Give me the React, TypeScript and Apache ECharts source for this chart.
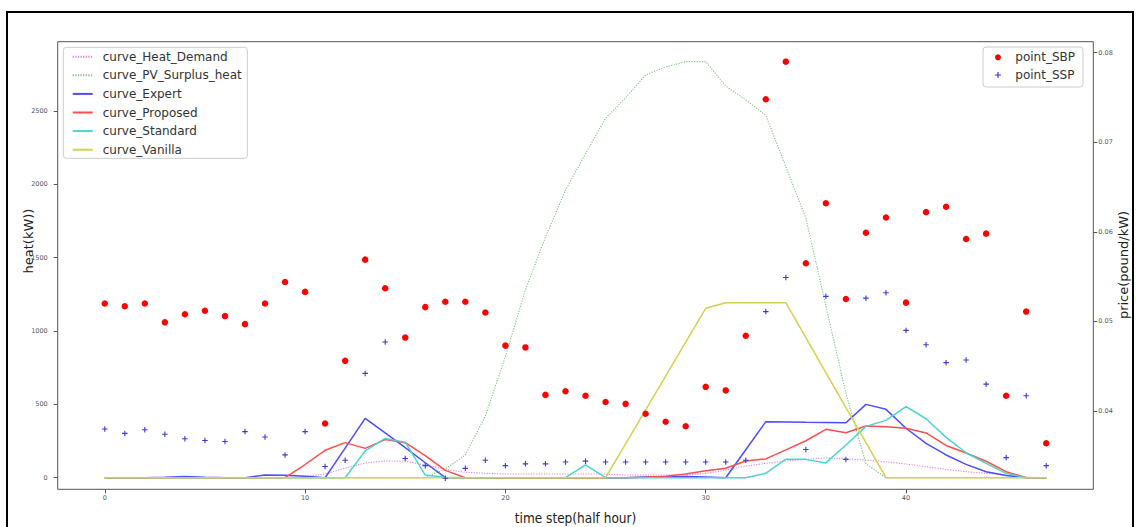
import React, { useEffect, useRef } from "react";
import * as echarts from "echarts";

// Half-hour time steps of the day
const timeSteps = [
  0, 1, 2, 3, 4, 5, 6, 7, 8, 9, 10, 11, 12, 13, 14, 15, 16, 17, 18, 19, 20, 21, 22, 23,
  24, 25, 26, 27, 28, 29, 30, 31, 32, 33, 34, 35, 36, 37, 38, 39, 40, 41, 42, 43, 44, 45, 46, 47,
];

// Heat curves (kW)
const heatDemand = [
  0, 0, 0, 0, 0, 0, 0, 0, 0, 0, 8, 25, 66, 100, 115, 112, 87, 57, 37, 30, 25, 25, 25, 25,
  25, 25, 18, 18, 18, 18, 28, 52, 80, 98, 114, 125, 135, 128, 120, 109, 93, 75, 57, 41, 30, 18, 5, 0,
];
const pvSurplusHeat = [
  0, 0, 0, 0, 0, 0, 0, 0, 0, 0, 0, 0, 0, 0, 0, 0, 0, 60, 155, 420, 825, 1280, 1640, 1960,
  2210, 2450, 2590, 2745, 2800, 2836, 2836, 2670, 2575, 2470, 2120, 1770, 1170, 575, 95, 0, 0, 0, 0, 0, 0, 0, 0, 0,
];
const expert = [
  0, 0, 0, 3, 8, 3, 0, 0, 18, 16, 10, 0, 202, 405, 305, 205, 102, 0, 0, 0, 0, 0, 0, 0,
  0, 0, 0, 5, 5, 8, 5, 0, 191, 382, 380, 378, 377, 375, 500, 466, 337, 234, 155, 91, 41, 15, 0, 0,
];
const proposed = [
  0, 0, 0, 0, 0, 0, 0, 0, 0, 0, 90, 187, 239, 200, 260, 239, 150, 50, 0, 0, 0, 0, 0, 0,
  0, 0, 0, 3, 10, 25, 48, 64, 114, 128, 190, 252, 330, 307, 353, 348, 337, 305, 220, 168, 112, 41, 0, 0,
];
const standard = [
  0, 0, 0, 0, 0, 0, 0, 0, 0, 0, 0, 0, 0, 183, 268, 242, 18, 3, 0, 0, 0, 0, 0, 0,
  87, 0, 0, 0, 0, 0, 0, 0, 0, 30, 126, 125, 101, 223, 350, 391, 484, 402, 275, 170, 98, 30, 0, 0,
];
const vanilla = [
  0, 0, 0, 0, 0, 0, 0, 0, 0, 0, 0, 0, 0, 0, 0, 0, 0, 0, 0, 0, 0, 0, 0, 0,
  0, 0, 231, 462, 693, 924, 1155, 1193, 1193, 1193, 1193, 955, 716, 477, 239, 0, 0, 0, 0, 0, 0, 0, 0, 0,
];

// Prices (pound/kW)
const sbpPrice = [
  0.052, 0.0517, 0.052, 0.0499, 0.0508, 0.0512, 0.0506, 0.0497, 0.052, 0.0544, 0.0533, 0.0386,
  0.0456, 0.0569, 0.0537, 0.0482, 0.0516, 0.0522, 0.0522, 0.051, 0.0473, 0.0471, 0.0418, 0.0422,
  0.0417, 0.041, 0.0408, 0.0397, 0.0388, 0.0383, 0.0427, 0.0423, 0.0484, 0.0748, 0.079, 0.0565,
  0.0632, 0.0525, 0.0599, 0.0616, 0.0521, 0.0622, 0.0628, 0.0592, 0.0598, 0.0417, 0.0511, 0.0364,
];
const sspPrice = [
  0.038, 0.0375, 0.0379, 0.0374, 0.0369, 0.0367, 0.0366, 0.0377, 0.0371, 0.0351, 0.0377, 0.0338,
  0.0345, 0.0442, 0.0477, 0.0347, 0.0339, 0.0325, 0.0336, 0.0345, 0.0339, 0.0341, 0.0341, 0.0343,
  0.0344, 0.0343, 0.0343, 0.0343, 0.0343, 0.0343, 0.0343, 0.0343, 0.0345, 0.0511, 0.0549, 0.0357,
  0.0528, 0.0346, 0.0526, 0.0532, 0.049, 0.0474, 0.0454, 0.0457, 0.043, 0.0348, 0.0417, 0.0339,
];

// Tick values
const stepTicks = [0, 10, 20, 30, 40];
const heatTicks = [0, 500, 1000, 1500, 2000, 2500];
const priceTicks = [0.04, 0.05, 0.06, 0.07, 0.08];

const pairs = (values: number[]) => timeSteps.map((t, i) => [t, values[i]]);

const CROSS = "path://M4,0H6V4H10V6H6V10H4V6H0V4H4Z";

const tickLabel = {
  fontFamily: "DejaVu Sans",
  fontSize: 6.5,
  color: "#555",
};

const tickLine = {
  show: true,
  length: 4,
  lineStyle: { color: "#555" },
};

const curve = (name: string, data: number[], color: string, dotted: boolean, width: number) => ({
  name,
  type: "line",
  yAxisIndex: 0,
  data: pairs(data),
  symbol: "none",
  showSymbol: false,
  lineStyle: {
    color,
    width,
    type: dotted ? [1.2, 1.4] : "solid",
  },
  itemStyle: { color },
});

export default function App() {
  const ref = useRef<HTMLDivElement>(null);

  useEffect(() => {
    if (!ref.current) return;
    const chart = echarts.init(ref.current, undefined, { renderer: "svg" });

    const legendBox = {
      backgroundColor: "rgba(255,255,255,0.8)",
      borderColor: "#cccccc",
      borderWidth: 1,
      borderRadius: 3,
    };

    const option = {
      animation: false,
      backgroundColor: "#ffffff",
      grid: {
        left: 57.7,
        top: 41.7,
        right: 42.7,
        bottom: 37.7,
        show: true,
        borderColor: "#555",
        borderWidth: 1,
        backgroundColor: "transparent",
      },
      xAxis: {
        type: "value",
        min: -2.35,
        max: 49.35,
        axisLine: { show: false, onZero: false },
        splitLine: { show: false },
        axisTick: { ...tickLine, customValues: stepTicks },
        axisLabel: { customValues: stepTicks, margin: 5, formatter: (v: number) => String(v), ...tickLabel },
      },
      yAxis: [
        {
          type: "value",
          position: "left",
          min: -79,
          max: 2972,
          axisLine: { show: false, onZero: false },
          splitLine: { show: false },
          axisTick: { ...tickLine, customValues: heatTicks },
          axisLabel: { customValues: heatTicks, margin: 10, formatter: (v: number) => String(v), ...tickLabel },
        },
        {
          type: "value",
          position: "right",
          min: 0.03126,
          max: 0.08123,
          axisLine: { show: false, onZero: false },
          splitLine: { show: false },
          axisTick: { ...tickLine, customValues: priceTicks },
          axisLabel: {
            customValues: priceTicks,
            margin: 5,
            formatter: (v: number) => v.toFixed(2),
            ...tickLabel,
          },
        },
      ],
      legend: [
        {
          orient: "vertical",
          left: 63.3,
          top: 47.3,
          data: [
            "curve_Heat_Demand",
            "curve_PV_Surplus_heat",
            "curve_Expert",
            "curve_Proposed",
            "curve_Standard",
            "curve_Vanilla",
          ],
          itemWidth: 20,
          itemHeight: 12,
          itemGap: 6.6,
          padding: [3.4, 5.6, 2.6, 8.4],
          itemStyle: { opacity: 0 },
          ...legendBox,
          textStyle: {
            fontFamily: "DejaVu Sans",
            fontSize: 12,
            color: "#333",
            padding: [0, 0, 0, 5],
          },
        },
        {
          orient: "vertical",
          left: 983,
          top: 47,
          data: ["point_SBP", "point_SSP"],
          itemWidth: 10,
          itemHeight: 6,
          itemGap: 5.7,
          padding: [4.3, 8, 6, 12],
          ...legendBox,
          textStyle: {
            fontFamily: "DejaVu Sans",
            fontSize: 12,
            color: "#333",
            padding: [0, 0, 0, 7.3],
          },
        },
      ],
      series: [
        curve("curve_Heat_Demand", heatDemand, "#df80df", true, 1.1),
        curve("curve_PV_Surplus_heat", pvSurplusHeat, "#80c080", true, 1.1),
        curve("curve_Expert", expert, "#4d4dff", false, 1.5),
        curve("curve_Proposed", proposed, "#ff4d4d", false, 1.5),
        curve("curve_Standard", standard, "#4dd2d2", false, 1.5),
        curve("curve_Vanilla", vanilla, "#d2d24d", false, 1.5),
        {
          name: "point_SBP",
          type: "scatter",
          yAxisIndex: 1,
          data: pairs(sbpPrice),
          symbol: "circle",
          symbolSize: 6.5,
          itemStyle: { color: "#ff0000", opacity: 1 },
          z: 5,
        },
        {
          name: "point_SSP",
          type: "scatter",
          yAxisIndex: 1,
          data: pairs(sspPrice),
          symbol: CROSS,
          symbolSize: 5.5,
          itemStyle: { color: "#3a3adc", opacity: 1 },
          z: 5,
        },
      ],
      graphic: [
        {
          type: "rect",
          shape: { x: 7, y: 12, width: 1126, height: 530 },
          style: { fill: "none", stroke: "#000", lineWidth: 2 },
          silent: true,
          z: 100,
        },
        {
          type: "text",
          x: 28,
          y: 241,
          rotation: Math.PI / 2,
          style: {
            text: "heat(kW))",
            fontFamily: "DejaVu Sans",
            fontSize: 13,
            fill: "#222",
            align: "center",
            verticalAlign: "middle",
          },
        },
        {
          type: "text",
          x: 1123,
          y: 265,
          rotation: Math.PI / 2,
          style: {
            text: "price(pound/kW)",
            fontFamily: "DejaVu Sans",
            fontSize: 13,
            fill: "#222",
            align: "center",
            verticalAlign: "middle",
          },
        },
        {
          type: "text",
          x: 575.5,
          y: 518,
          style: {
            text: "time step(half hour)",
            fontFamily: "DejaVu Sans Condensed",
            fontSize: 13.5,
            fill: "#222",
            align: "center",
            verticalAlign: "middle",
          },
        },
      ],
    };

    chart.setOption(option as any);
    return () => chart.dispose();
  }, []);

  return (
    <div
      ref={ref}
      style={{ position: "fixed", left: 0, top: 0, width: 1136, height: 527 }}
    />
  );
}
